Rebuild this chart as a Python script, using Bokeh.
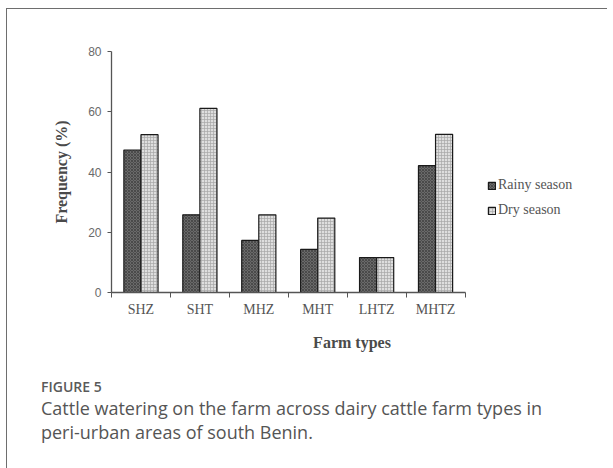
from bokeh.plotting import figure
from bokeh.models import (Range1d, FixedTicker, ColumnDataSource, Legend, LegendItem, Div)
from bokeh.layouts import column
from bokeh.transform import dodge
from bokeh.embed import file_html
from bokeh.resources import INLINE

# ---- data ----
farm_types = ["SHZ", "SHT", "MHZ", "MHT", "LHTZ", "MHTZ"]
rainy_season = [47.3, 25.8, 17.3, 14.3, 11.6, 42.1]
dry_season = [52.4, 61.1, 25.8, 24.7, 11.6, 52.5]
y_ticks = [0, 20, 40, 60, 80]
series_names = ["Rainy season", "Dry season"]
caption_label = "FIGURE 5"
caption_lines = ["Cattle watering on the farm across dairy cattle farm types in",
                 "peri-urban areas of south Benin."]

n = len(farm_types)
centers = [i + 0.5 for i in range(n)]
bounds = list(range(n + 1))

# layout geometry (pixels)
FIG_W, FIG_H = 590, 350
LEFT, RIGHT, TOP, BOTTOM = 104, 5, 42, 67
AXIS_PX = 353.5              # pixel length of the category axis
frame_w = FIG_W - LEFT - RIGHT
x_end = n * frame_w / AXIS_PX  # extra room on the right holds the legend

source = ColumnDataSource(dict(x=centers, cat=farm_types, rainy=rainy_season, dry=dry_season))

p = figure(width=FIG_W, height=FIG_H, output_backend="svg", toolbar_location=None,
           x_range=Range1d(0, x_end), y_range=Range1d(0, 80),
           min_border_left=LEFT, min_border_right=RIGHT, min_border_top=TOP,
           min_border_bottom=BOTTOM)
p.outline_line_color = None
p.xgrid.visible = False
p.ygrid.visible = False
p.background_fill_color = "white"
p.border_fill_color = "white"

bw = 0.29
r1 = p.vbar(x=dodge("x", -bw / 2), top="rainy", width=bw, source=source,
            fill_color="#6a6a6a", line_color="#1a1a1a", line_width=1.2,
            hatch_pattern="x", hatch_color="#3c3c3c", hatch_scale=3, hatch_weight=0.7)
r2 = p.vbar(x=dodge("x", bw / 2), top="dry", width=bw, source=source,
            fill_color="#dedede", line_color="#1a1a1a", line_width=1.2,
            hatch_pattern="+", hatch_color="#a8a8a8", hatch_scale=3, hatch_weight=0.7)

# y axis
ya = p.yaxis[0]
ya.ticker = FixedTicker(ticks=y_ticks)
ya.minor_tick_line_color = None
ya.major_tick_out = 4
ya.major_tick_in = 0
ya.axis_line_color = "#555555"
ya.axis_line_width = 1.3
ya.major_tick_line_color = "#555555"
ya.major_label_text_font = "Liberation Sans"
ya.major_label_text_font_size = "12px"
ya.major_label_text_color = "#6a6a6a"
ya.major_label_standoff = 6
ya.axis_label = "Frequency (%)"
ya.axis_label_text_font = "Liberation Serif"
ya.axis_label_text_font_style = "bold"
ya.axis_label_text_font_size = "16px"
ya.axis_label_text_color = "#4a4a4a"
ya.axis_label_standoff = 15

# x axis: labels at centres, ticks at group boundaries (minor)
xa = p.xaxis[0]
xa.bounds = (0, n)
xa.ticker = FixedTicker(ticks=centers, minor_ticks=bounds)
xa.major_label_overrides = {c: t for c, t in zip(centers, farm_types)}
xa.major_tick_out = 0
xa.major_tick_in = 0
xa.minor_tick_out = 5
xa.minor_tick_in = 0
xa.minor_tick_line_color = "#555555"
xa.axis_line_color = "#555555"
xa.axis_line_width = 1.3
xa.major_label_text_font = "Liberation Serif"
xa.major_label_text_font_size = "14px"
xa.major_label_text_color = "#555555"
xa.major_label_standoff = 4
xa.axis_label = "Farm types"
xa.axis_label_text_font = "Liberation Serif"
xa.axis_label_text_font_style = "bold"
xa.axis_label_text_font_size = "16px"
xa.axis_label_text_color = "#4a4a4a"
xa.axis_label_standoff = 14

legend = Legend(items=[LegendItem(label=series_names[0], renderers=[r1]),
                       LegendItem(label=series_names[1], renderers=[r2])],
                location=(376, 72))
legend.padding = 0
legend.margin = 0
legend.border_line_color = None
legend.background_fill_alpha = 0
legend.glyph_width = 9
legend.glyph_height = 9
legend.label_standoff = 2
legend.label_height = 20
legend.spacing = 5
legend.label_text_font = "Liberation Serif"
legend.label_text_font_size = "14px"
legend.label_text_color = "#555555"
p.add_layout(legend, "center")

caption_html = (
    '<div style="font-family:\'Open Sans\',sans-serif;color:#555555;padding:15px 0 0 29px;">'
    '<div style="font-size:14px;line-height:16px;font-weight:600;color:#5a5a5a;">'
    + caption_label + '</div>'
    '<div style="font-size:18px;line-height:24px;margin-top:1px;">'
    + caption_lines[0] + '<br>' + caption_lines[1] + '</div></div>'
)
cap = Div(text=caption_html, width=590, height=100)

layout = column(p, cap, spacing=0,
                styles={"margin-left": "6px", "margin-top": "8px",
                        "border-top": "1.5px solid #6e6e6e",
                        "border-left": "1.5px solid #6e6e6e"})

open("out.html", "w").write(file_html(layout, INLINE))
